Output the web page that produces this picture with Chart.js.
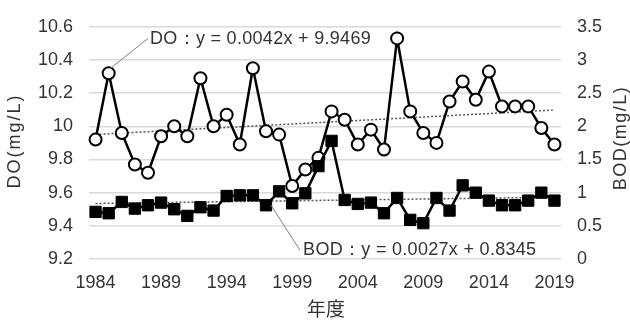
<!DOCTYPE html>
<html>
<head>
<meta charset="utf-8">
<script src="https://cdn.jsdelivr.net/npm/chart.js@4.4.1/dist/chart.umd.min.js"></script>
<style>
  html, body { margin: 0; padding: 0; background: #ffffff; }
  #wrap { width: 630px; height: 325px; }
</style>
</head>
<body>
<div id="wrap"><canvas id="c" width="630" height="325"></canvas></div>
<script>
// ---- data ----
const years = ['1984','1985','1986','1987','1988','1989','1990','1991','1992','1993','1994','1995',
  '1996','1997','1998','1999','2000','2001','2002','2003','2004','2005','2006','2007',
  '2008','2009','2010','2011','2012','2013','2014','2015','2016','2017','2018','2019'];
const doValues = [9.92, 10.32, 9.96, 9.77, 9.72, 9.94, 10.00, 9.94, 10.29, 10.00, 10.07, 9.89,
  10.35, 9.97, 9.95, 9.64, 9.74, 9.81, 10.09, 10.04, 9.89, 9.98, 9.86, 10.53,
  10.09, 9.96, 9.90, 10.15, 10.27, 10.16, 10.33, 10.12, 10.12, 10.12, 9.99, 9.89];
const bodValues = [0.71, 0.69, 0.86, 0.76, 0.81, 0.85, 0.75, 0.65, 0.78, 0.73, 0.95, 0.96,
  0.96, 0.81, 1.02, 0.84, 0.99, 1.40, 1.78, 0.89, 0.83, 0.85, 0.69, 0.92,
  0.59, 0.54, 0.92, 0.73, 1.11, 1.00, 0.88, 0.81, 0.81, 0.88, 1.00, 0.88];
// trend line end values (from the printed equations, x = 1 and x = 36)
const doTrendEnds = [9.9511, 10.0981];
const bodTrendEnds = [0.8372, 0.9317];
const doTicks = ['9.2','9.4','9.6','9.8','10','10.2','10.4','10.6'];
const bodTicks = ['0','0.5','1','1.5','2','2.5','3','3.5'];
const xTickYears = ['1984','1989','1994','1999','2004','2009','2014','2019'];
const doLabel = 'DO：y = 0.0042x + 9.9469';
const bodLabel = 'BOD：y = 0.0027x + 0.8345';
const titles = { left: 'DO(mg/L)', right: 'BOD(mg/L)', x: '年度' };

const FONT = '"Liberation Sans", Arial, sans-serif';
const TXT = '#333333';

const overlay = {
  id: 'overlay',
  afterDatasetsDraw(chart) {
    const ctx = chart.ctx;
    const xs = chart.scales.x, y = chart.scales.y, y1 = chart.scales.y1;
    ctx.save();
    // leader lines
    ctx.strokeStyle = '#7f7f7f';
    ctx.lineWidth = 1;
    ctx.beginPath();
    ctx.moveTo(xs.getPixelForValue(1) + 2, y.getPixelForValue(doValues[1]) - 5);
    ctx.lineTo(xs.getPixelForValue(4), y.getPixelForValue(10.53));
    ctx.stroke();
    ctx.beginPath();
    ctx.moveTo(xs.getPixelForValue(13) + 5, y1.getPixelForValue(bodValues[13]));
    ctx.lineTo(xs.getPixelForValue(15.6), y1.getPixelForValue(0.13));
    ctx.stroke();
    // annotation texts
    ctx.fillStyle = TXT;
    ctx.font = '18px ' + FONT;
    ctx.textBaseline = 'middle';
    ctx.textAlign = 'left';
    ctx.letterSpacing = '0.3px';
    ctx.fillText(doLabel, xs.getPixelForValue(4) + 2, y.getPixelForValue(10.53) + 1);
    ctx.fillText(bodLabel, xs.getPixelForValue(15.6) + 3, y1.getPixelForValue(0.13));
    // axis titles
    ctx.textAlign = 'center';
    ctx.letterSpacing = '2px';
    ctx.save();
    ctx.translate(15, 141);
    ctx.rotate(-Math.PI / 2);
    ctx.fillText(titles.left, 0, 0);
    ctx.restore();
    ctx.letterSpacing = '1.5px';
    ctx.save();
    ctx.translate(621, 138);
    ctx.rotate(-Math.PI / 2);
    ctx.fillText(titles.right, 0, 0);
    ctx.restore();
    ctx.letterSpacing = '0px';
    ctx.font = '19px "Noto Sans CJK JP", sans-serif';
    ctx.fillText(titles.x, 326, 309);
    ctx.restore();
  }
};

new Chart(document.getElementById('c'), {
  type: 'line',
  data: {
    labels: years,
    datasets: [
      {
        label: 'BOD', data: bodValues, yAxisID: 'y1', order: 0,
        borderColor: '#000', borderWidth: 2.5, backgroundColor: '#000',
        pointStyle: 'rect', pointRadius: 8, pointBorderWidth: 1,
        pointBackgroundColor: '#000', pointBorderColor: '#000', tension: 0
      },
      {
        label: 'DO', data: doValues, yAxisID: 'y', order: 1,
        borderColor: '#000', borderWidth: 2.5, backgroundColor: '#fff',
        pointStyle: 'circle', pointRadius: 6, pointBorderWidth: 2,
        pointBackgroundColor: '#fff', pointBorderColor: '#000', tension: 0
      },
      {
        label: 'DO trend', yAxisID: 'y', order: 3,
        data: [{x: years[0], y: doTrendEnds[0]}, {x: years[years.length - 1], y: doTrendEnds[1]}],
        borderColor: '#555', borderWidth: 1.5, borderDash: [2, 2], pointRadius: 0, fill: false
      },
      {
        label: 'BOD trend', yAxisID: 'y1', order: 3,
        data: [{x: years[0], y: bodTrendEnds[0]}, {x: years[years.length - 1], y: bodTrendEnds[1]}],
        borderColor: '#555', borderWidth: 1.5, borderDash: [2, 2], pointRadius: 0, fill: false
      }
    ]
  },
  options: {
    responsive: false,
    animation: false,
    events: [],
    layout: { padding: { top: 16, bottom: 0, left: 0, right: 0 } },
    plugins: { legend: { display: false }, tooltip: { enabled: false } },
    scales: {
      x: {
        type: 'category',
        offset: true,
        grid: { display: false, drawTicks: false },
        border: { display: false },
        ticks: {
          autoSkip: false, maxRotation: 0, minRotation: 0, padding: 13,
          color: TXT, font: { family: FONT, size: 18 },
          callback: function (v, i) { const l = years[i]; return xTickYears.includes(l) ? l : ''; }
        },
        afterFit: (s) => { s.height = 66; }
      },
      y: {
        position: 'left', min: 9.2, max: 10.6,
        grid: { color: '#d9d9d9', lineWidth: 1.5, drawTicks: false },
        border: { display: false },
        ticks: {
          stepSize: 0.2, padding: 16, color: TXT, font: { family: FONT, size: 18 },
          callback: (v, i) => doTicks[i]
        },
        afterFit: (s) => { s.width = 89; }
      },
      y1: {
        position: 'right', min: 0, max: 3.5,
        grid: { display: false, drawTicks: false },
        border: { display: false },
        ticks: {
          stepSize: 0.5, padding: 16, color: TXT, font: { family: FONT, size: 18 },
          callback: (v, i) => bodTicks[i]
        },
        afterFit: (s) => { s.width = 69; }
      }
    }
  },
  plugins: [overlay]
});
</script>
</body>
</html>
